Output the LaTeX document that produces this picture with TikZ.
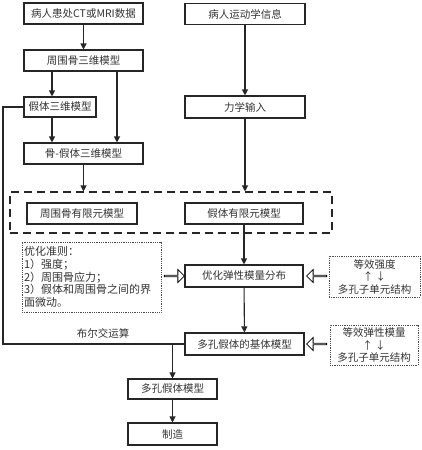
\documentclass[tikz,border=0pt]{standalone}
\usepackage{fontspec}
\newfontfamily\cjk{Noto Sans CJK SC}
\usetikzlibrary{arrows.meta,shapes.arrows}
\begin{document}
\begin{tikzpicture}[x=1pt, y=-1pt,
font=\cjk\fontsize{10.5}{12}\selectfont, text=black!80,
box/.style = {draw, line width=1.1pt, draw=black!85,
	minimum height=21pt,
	inner sep=0pt},
note/.style = {draw=black!70, densely dotted, line width=0.8pt, inner sep=2pt},
arr/.style = {line width=1.1pt, draw=black!85, -{Triangle[length=6pt,width=6pt]}},
hollow/.style = {single arrow, draw, line width=0.8pt, fill=white,
	minimum height=20pt, minimum width=13pt,
	single arrow head extend=3pt, inner sep=0pt}]

\useasboundingbox (0,0) rectangle (422,450);

\node (data) at (83.5,13.5) [box, minimum width=119pt] {病人患处CT或MRI数据};
\node (motion) at (245,14) [box, minimum width=120pt] {病人运动学信息};
\node (bone3d) at (83.5,60.5) [box, minimum width=119pt] {周围骨三维模型};
\node (pros3d) at (60,107) [box, minimum width=72pt, minimum height=20pt] {假体三维模型};
\node (mech) at (245,107) [box, minimum width=120pt, minimum height=22pt] {力学输入};
\node (bonepros) at (83.5,153.5) [box, minimum width=119pt] {骨-假体三维模型};

\node (fe) at (171,212.5) [draw=black!85, dashed, dash pattern=on 8pt off 5pt, line width=1.1pt,
	minimum width=322pt, minimum height=41pt] {};
\node (bonefe) at (82,213.5) [box, minimum width=110pt] {周围骨有限元模型};
\node (prosfe) at (244,213.5) [box, minimum width=118pt] {假体有限元模型};

\node (rules) at (91.5,277) [note, minimum width=137pt, minimum height=70pt,
	text width=135pt, align=left, font=\cjk\fontsize{11}{12.7}\selectfont]
	{优化准则：\\1）强度；\\2）周围骨应力；\\3）假体和周围骨之间的界\\面微动。};
\node (opt) at (244,276) [box, minimum width=118pt, minimum height=22pt] {优化弹性模量分布};
\node (eqs) at (374.5,276.5) [note, minimum width=91pt, minimum height=41pt,
	align=center, font=\cjk\fontsize{10.5}{12.5}\selectfont] {等效强度\\↑ ↓\\多孔子单元结构};

\node (base) at (244.5,344) [box, minimum width=119pt, minimum height=22pt] {多孔假体的基体模型};
\node (eqm) at (374,345) [note, minimum width=88pt, minimum height=40pt,
	align=center, font=\cjk\fontsize{10.5}{12.5}\selectfont] {等效弹性模量\\↑ ↓\\多孔子单元结构};

\node (porous) at (172.5,389) [box, minimum width=89pt, minimum height=20pt] {多孔假体模型};
\node (make) at (172.5,434) [box, minimum width=89pt, minimum height=22pt] {制造};

\node (hr) at (174,276) [hollow] {};
\node (hl1) at (317,276) [hollow, shape border rotate=180] {};
\node (hl2) at (317,344) [hollow, shape border rotate=180] {};

\draw[arr] (data) -- (bone3d);
\draw[arr] (motion) -- (mech);
\draw[arr] ([xshift=-8pt]pros3d.north |- bone3d.south) -- ([xshift=-8pt]pros3d.north);
\draw[arr] ([xshift=33.5pt]bone3d.south) -- ([xshift=33.5pt]bonepros.north);
\draw[arr] ([xshift=-8pt]pros3d.south) -- ([xshift=-8pt]pros3d.south |- bonepros.north);
\draw[arr] (bonepros.south) -- (bonepros.south |- fe.north);
\draw[arr] (mech.south) -- (mech.south |- fe.north);
\draw[arr] (prosfe) -- (opt);
\draw[arr] (opt) -- (base);

\coordinate (bool) at (porous.north |- base.west);
\draw[line width=1.1pt, draw=black!85] (pros3d.west) -- (3,107) -- (3,344) -- (base.west);
\node (boollabel) at (103,333) {布尔交运算};
\draw[arr] (bool) -- (porous);
\draw[arr] (porous) -- (make);
\end{tikzpicture}
\end{document}
